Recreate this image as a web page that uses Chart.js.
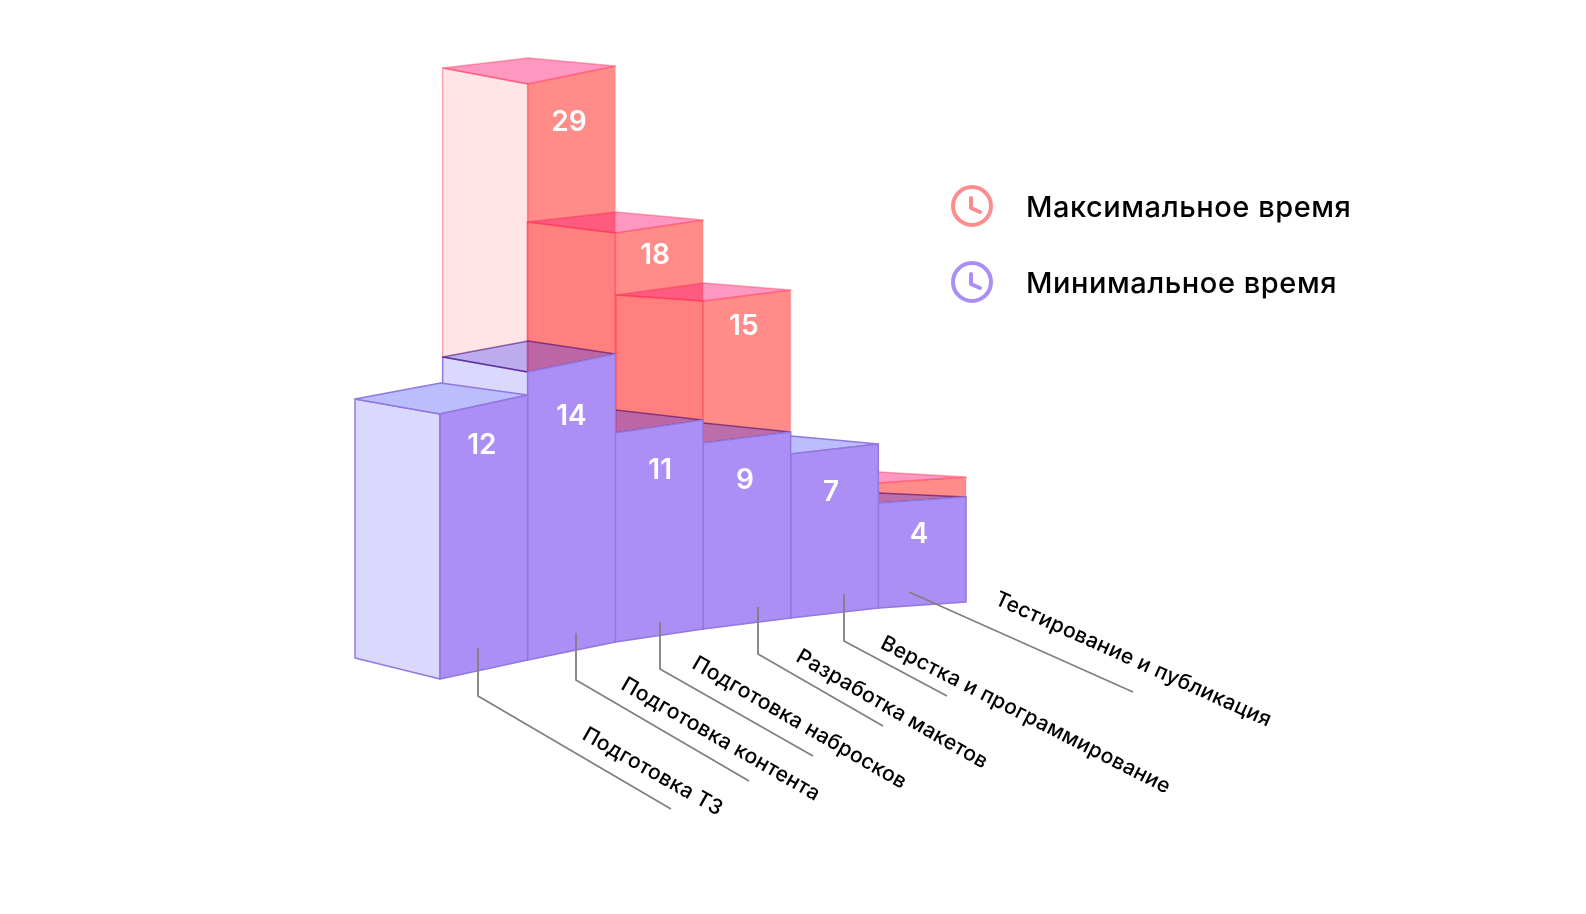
<!DOCTYPE html>
<html>
<head>
<meta charset="utf-8">
<title>Время на этапы</title>
<script src="https://cdn.jsdelivr.net/npm/chart.js@4"></script>
<style>
    html, body { margin: 0; padding: 0; background: #fff; }
    #wrap { width: 1586px; height: 914px; }
</style>
</head>
<body>
<div id="wrap"><canvas id="chart"></canvas></div>
<script>
// Data
const stages = ['Подготовка ТЗ', 'Подготовка контента', 'Подготовка набросков', 'Разработка макетов', 'Верстка и программирование', 'Тестирование и публикация'];
const minValues = [12, 14, 11, 9, 7, 4];
const maxValues = [null, 29, 18, 15, null, 5];
const maxLabels = ['', '29', '18', '15', '', ''];

// The picture does not draw heights in proportion, so the value axis is read as value -> height in px
const axisValues = [0, 4, 5, 7, 9, 11, 12, 14, 15, 18, 29];
const axisHeights = [0, 105, 125, 164, 186, 209, 265, 288, 328, 409, 576];

// Projection: how far the floor climbs per column, and how the depth edges run
const floorRise = [19, 18, 13, 11, 10, 6];
const depthMinRight = [12, 13, 10, 9, 8, 4];
const depthMinLeft = [15, 15, 8, 8, 8, 4];
const depthMaxRight = [0, 8, 8, 7, 0, 5];
const depthMaxLeft = [0, 16, 11, 6, 0, 8];
const depthXRight = 87;
const depthXLeft = [85, 85, 88, 87, 87, 87];
const floorDepth = 21;

// Annotation layout
const minLabelOffset = [[-2, 41], [0, 53.5], [1, 44.5], [-2, 43], [-3.5, 43.5], [-3, 34.5]];
const maxLabelOffset = [[0, 0], [-2.5, 47.5], [-4, 29.5], [-3, 31], [0, 0], [0, 0]];
const leaders = [
    [[478, 648], [478, 696], [671, 809]],
    [[576, 633], [576, 680], [749, 781]],
    [[660, 622], [660, 669], [813, 756]],
    [[758, 607], [758, 654], [883, 726]],
    [[844, 594], [844, 641], [947, 696]],
    [[909, 592], [1133, 692]]
];
const stageLabels = [
    { x: 584, y: 733, angle: 29.5 },
    { x: 623, y: 683, angle: 30 },
    { x: 694, y: 662, angle: 30 },
    { x: 798, y: 655, angle: 30 },
    { x: 882, y: 642, angle: 27 },
    { x: 996, y: 598, angle: 24.2 }
];

const FONT = 'Inter, "Noto Sans", sans-serif';

// Linear scale with a hand-read value -> height table
class ReadScale extends Chart.LinearScale {
    static id = 'readScale';
    getPixelForValue(value) {
        let i = 1;
        while (i < axisValues.length - 1 && value > axisValues[i]) i++;
        const t = (value - axisValues[i - 1]) / (axisValues[i] - axisValues[i - 1]);
        return this.bottom - (axisHeights[i - 1] + t * (axisHeights[i] - axisHeights[i - 1]));
    }
}
Chart.register(ReadScale);

function poly(ctx, points, fill, stroke) {
    ctx.beginPath();
    points.forEach((p, i) => i ? ctx.lineTo(p[0], p[1]) : ctx.moveTo(p[0], p[1]));
    ctx.closePath();
    if (fill) {
        ctx.fillStyle = fill;
        ctx.fill();
    }
    if (stroke) {
        ctx.strokeStyle = stroke;
        ctx.stroke();
    }
}

// Floor rise accumulated up to the left edge of a column
function riseAt(index) {
    let sum = 0;
    for (let i = 0; i < index; i++) sum += floorRise[i];
    return sum;
}

// Corners of one box, taken from the bar element the library laid out
function boxCorners(bar, index, depthRight, depthLeft) {
    const left = bar.x - bar.width / 2;
    const right = bar.x + bar.width / 2;
    const height = bar.base - bar.y;
    const floorL = bar.base - riseAt(index);
    const floorR = floorL - floorRise[index];
    return {
        floorL: [left, floorL],
        floorR: [right, floorR],
        frontL: [left, floorL - height],
        frontR: [right, floorR - height],
        backL: [left - depthXLeft[index], floorL - height - depthLeft],
        backR: [right - depthXRight, floorR - height - depthRight],
        sideFloor: [left - depthXLeft[index], floorL - floorDepth]
    };
}

function drawMaxBox(ctx, c) {
    const line = 'rgba(255, 40, 70, 0.38)';
    poly(ctx, [c.frontL, c.frontR, c.floorR, c.floorL], '#ff8c88', 'rgba(255, 80, 120, 0.2)');
    poly(ctx, [c.backL, c.frontL, c.floorL, c.sideFloor], 'rgba(255, 41, 66, 0.12)', line);
    poly(ctx, [c.backL, c.backR, c.frontR, c.frontL], 'rgba(255, 31, 118, 0.46)', line);
}

// Where no red box stands behind, the top is plain; over red it shows through
function drawMinBox(ctx, c, overRed) {
    const line = '#9278df';
    poly(ctx, [c.backL, c.frontL, c.floorL, c.sideFloor], '#dad8fd', line);
    if (overRed) {
        poly(ctx, [c.backL, c.backR, c.frontR, c.frontL], 'rgba(42, 44, 248, 0.315)', 'rgba(70, 0, 100, 0.55)');
    } else {
        poly(ctx, [c.backL, c.backR, c.frontR, c.frontL], '#bcbdfd', line);
    }
    poly(ctx, [c.frontL, c.frontR, c.floorR, c.floorL], '#ab8ff5', line);
}

function drawClock(ctx, x, y, color) {
    ctx.strokeStyle = color;
    ctx.lineCap = 'round';
    ctx.lineJoin = 'round';
    ctx.lineWidth = 4;
    ctx.beginPath();
    ctx.arc(x, y, 19, 0, Math.PI * 2);
    ctx.stroke();
    ctx.beginPath();
    ctx.moveTo(x - 1, y - 8);
    ctx.lineTo(x - 1, y + 2);
    ctx.lineTo(x + 8, y + 6);
    ctx.stroke();
}

const boxesPlugin = {
    id: 'boxes',
    afterDatasetsDraw(chart) {
        const ctx = chart.ctx;
        const minBars = chart.getDatasetMeta(0).data;
        const maxBars = chart.getDatasetMeta(1).data;
        ctx.save();
        ctx.lineWidth = 1.5;
        ctx.lineJoin = 'round';

        // Red boxes left to right, each one shows through over the previous front
        maxValues.forEach((v, i) => {
            if (v !== null) drawMaxBox(ctx, boxCorners(maxBars[i], i, depthMaxRight[i], depthMaxLeft[i]));
        });
        // Purple boxes right to left, the fronts are solid
        for (let i = minValues.length - 1; i >= 0; i--) {
            drawMinBox(ctx, boxCorners(minBars[i], i, depthMinRight[i], depthMinLeft[i]), maxValues[i] !== null);
        }

        // Values on the fronts
        ctx.fillStyle = '#fff';
        ctx.font = '600 28px ' + FONT;
        ctx.textAlign = 'center';
        ctx.textBaseline = 'middle';
        minValues.forEach((v, i) => {
            const c = boxCorners(minBars[i], i, 0, 0);
            const topY = (c.frontL[1] + c.frontR[1]) / 2;
            ctx.fillText(String(v), minBars[i].x + minLabelOffset[i][0], topY + minLabelOffset[i][1]);
        });
        maxLabels.forEach((text, i) => {
            if (!text) return;
            const c = boxCorners(maxBars[i], i, 0, 0);
            const topY = (c.frontL[1] + c.frontR[1]) / 2;
            ctx.fillText(text, maxBars[i].x + maxLabelOffset[i][0], topY + maxLabelOffset[i][1]);
        });

        // Leader lines and stage names
        ctx.strokeStyle = '#808080';
        ctx.lineWidth = 1.8;
        ctx.lineJoin = 'miter';
        leaders.forEach(points => {
            ctx.beginPath();
            points.forEach((p, i) => i ? ctx.lineTo(p[0], p[1]) : ctx.moveTo(p[0], p[1]));
            ctx.stroke();
        });
        ctx.fillStyle = '#000';
        ctx.font = '500 21px ' + FONT;
        ctx.letterSpacing = '0.3px';
        ctx.textAlign = 'left';
        stages.forEach((name, i) => {
            const pos = stageLabels[i];
            ctx.save();
            ctx.translate(pos.x, pos.y);
            ctx.rotate(pos.angle * Math.PI / 180);
            ctx.fillText(name, 0, 0);
            ctx.restore();
        });

        // Legend
        drawClock(ctx, 972, 206, '#ff8c8c');
        drawClock(ctx, 972, 282, '#a98ff5');
        ctx.fillStyle = '#000';
        ctx.font = '500 29px ' + FONT;
        ctx.letterSpacing = '0.55px';
        ctx.fillText(chart.data.datasets[1].label, 1026, 208);
        ctx.fillText(chart.data.datasets[0].label, 1026, 284);
        ctx.restore();
    }
};

new Chart(document.getElementById('chart'), {
    type: 'bar',
    data: {
        labels: stages,
        datasets: [
            { label: 'Минимальное время', data: minValues, backgroundColor: 'transparent' },
            { label: 'Максимальное время', data: maxValues, backgroundColor: 'transparent' }
        ]
    },
    options: {
        responsive: true,
        maintainAspectRatio: false,
        animation: false,
        layout: { padding: { left: 440, right: 620, top: 60, bottom: 235 } },
        datasets: { bar: { grouped: false, barPercentage: 1, categoryPercentage: 1 } },
        plugins: { legend: { display: false }, tooltip: { enabled: false } },
        scales: {
            x: { display: false, offset: true },
            y: { type: 'readScale', display: false, min: 0, max: 30 }
        }
    },
    plugins: [boxesPlugin]
});
</script>
</body>
</html>
